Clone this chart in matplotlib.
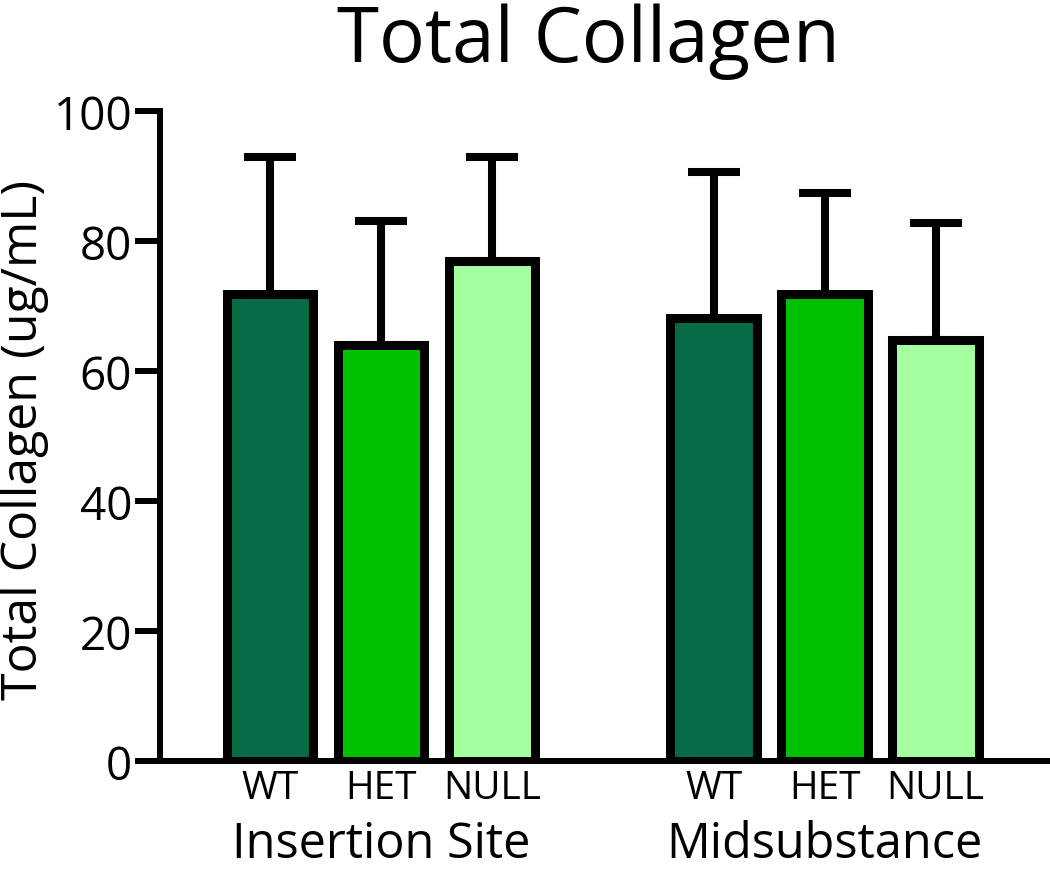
import matplotlib
matplotlib.use('Agg')
import matplotlib.pyplot as plt
import matplotlib.transforms as mtransforms

# values
genotypes = ['WT', 'HET', 'NULL']
sites = ['Insertion Site', 'Midsubstance']
means = [71.8, 64.0, 76.9, 68.1, 71.9, 64.7]
upper = [93.0, 83.1, 92.9, 90.7, 87.4, 82.8]
colors = ['#066b45', '#00c000', '#a3ff9f']

plt.rcParams['font.family'] = ['Open Sans', 'DejaVu Sans']

positions = [0, 1, 2, 4, 5, 6]
errs = [u - m for u, m in zip(upper, means)]
bar_colors = colors * len(sites)
tick_labels = genotypes * len(sites)

fig = plt.figure(figsize=(10.5, 8.7), dpi=100)
ax = fig.add_axes([0.1524, 0.1241, 0.8476, 0.7471])

ax.errorbar(positions, means, yerr=[[0] * len(errs), errs], fmt='none',
            ecolor='black', elinewidth=5.8, capsize=19, capthick=5.8, zorder=2)
ax.bar(positions, means, width=0.78, color=bar_colors, edgecolor='black',
       linewidth=6.5, zorder=3)

ax.set_xlim(-0.99, 7.03)
ax.set_ylim(0, 100)
ax.set_yticks([0, 20, 40, 60, 80, 100])
ax.tick_params(axis='y', length=18, width=4.3, labelsize=33, pad=2)
ax.set_xticks(positions, tick_labels)
ax.tick_params(axis='x', length=0, labelsize=28, pad=6)

for side in ['top', 'right']:
    ax.spines[side].set_visible(False)
for side in ['left', 'bottom']:
    ax.spines[side].set_linewidth(4.3)

trans = mtransforms.blended_transform_factory(ax.transData, fig.transFigure)
for i, site in enumerate(sites):
    center = sum(positions[i * 3:i * 3 + 3]) / 3
    ax.text(center, 0.014, site, transform=trans, ha='center', va='baseline',
            fontsize=35)

fig.text(0.56, 0.9287, 'Total Collagen', ha='center', va='baseline', fontsize=55)
fig.text(0.023, 0.494, 'Total Collagen (ug/mL)', ha='center', va='center',
         rotation=90, fontsize=36)

fig.savefig('out.png', dpi=100)
